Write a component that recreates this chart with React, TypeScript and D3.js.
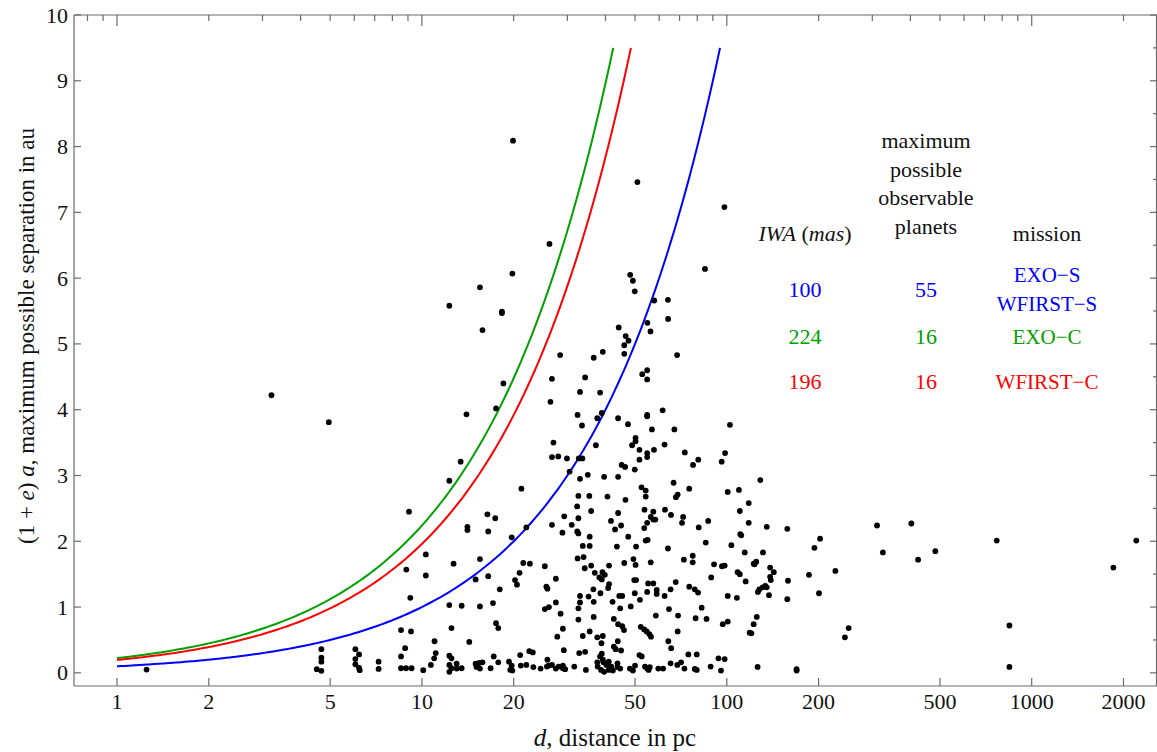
import React from "react";
import * as d3 from "d3";

// ---------- data ----------
// Planets: [distance d in pc, (1+e)a maximum possible separation in au]
const planetsNear: [number, number][] = [
  [1.25, 0.05], [3.21, 4.22], [4.95, 3.81], [14.0, 3.93], [17.5, 4.02], [13.4, 3.21], [12.3, 2.92],
  [9.07, 2.45], [16.4, 2.41], [17.4, 2.35], [14.1, 2.22], [14.1, 2.17], [16.5, 2.15], [10.3, 1.8],
  [8.89, 1.57], [10.3, 1.48], [12.7, 1.66], [15.5, 1.73], [15.0, 1.42], [16.5, 1.47], [18.0, 1.27],
  [9.16, 1.14], [12.3, 1.03], [13.5, 1.02], [15.5, 1.01], [17.1, 1.06], [17.5, 0.755], [17.8, 0.68],
  [8.54, 0.65], [9.21, 0.63], [12.5, 0.68], [14.3, 0.47], [11.0, 0.48], [11.1, 0.3], [10.97, 0.22],
  [10.7, 0.12], [10.1, 0.04], [8.81, 0.375], [8.54, 0.25], [8.54, 0.07], [8.87, 0.07], [9.25, 0.07],
  [7.21, 0.17], [7.21, 0.06], [6.05, 0.36], [6.22, 0.28], [6.05, 0.21], [6.05, 0.13], [6.22, 0.076],
  [6.25, 0.04], [4.68, 0.36], [4.68, 0.23], [4.68, 0.17], [4.52, 0.056], [4.68, 0.03], [12.3, 0.26],
  [12.5, 0.22], [12.3, 0.12], [13.0, 0.14], [12.5, 0.07], [13.0, 0.065], [13.5, 0.07], [12.3, 0.015],
  [15.0, 0.14], [15.4, 0.15], [15.1, 0.09], [15.5, 0.065], [15.8, 0.16], [16.8, 0.07], [17.2, 0.25],
  [17.8, 0.16], [15.5, 5.86], [12.3, 5.58], [18.3, 5.49], [18.3, 5.47], [15.8, 5.21], [18.5, 4.4],
  [19.3, 0.17],
];

const planetsMid: [number, number][] = [
  [26.4, 4.12], [33.0, 4.27], [32.4, 3.92], [33.5, 3.76], [27.0, 3.5], [26.7, 3.28], [28.0, 3.29],
  [29.9, 3.26], [32.7, 3.26], [33.6, 3.26], [30.5, 3.06], [33.0, 2.95], [35.0, 3.01], [21.2, 2.8],
  [32.6, 2.69], [35.4, 2.69], [32.3, 2.53], [35.9, 2.46], [29.3, 2.38], [26.7, 2.25], [28.9, 2.13],
  [31.0, 2.25], [32.6, 2.35], [32.3, 2.15], [32.6, 2.12], [22.0, 2.21], [19.7, 2.06], [35.5, 2.07],
  [33.7, 1.93], [35.5, 1.93], [32.4, 1.74], [33.9, 1.76], [35.9, 1.63], [34.2, 1.59], [21.5, 1.67],
  [22.6, 1.66], [25.3, 1.62], [20.9, 1.52], [20.2, 1.41], [20.5, 1.34], [27.5, 1.43], [25.6, 1.31],
  [25.8, 1.28], [25.3, 0.97], [26.1, 1.0], [27.5, 1.07], [28.5, 0.9], [33.0, 1.17], [35.2, 1.16],
  [33.0, 1.07], [32.6, 0.98], [32.6, 0.81], [29.0, 0.67], [27.8, 0.55], [35.5, 0.63], [33.7, 0.56],
  [29.2, 0.345], [32.8, 0.3], [34.3, 0.32], [22.5, 0.33], [23.1, 0.31], [21.0, 0.27], [19.7, 0.11],
  [19.5, 0.045], [19.8, 0.035], [21.1, 0.11], [22.0, 0.12], [23.2, 0.087], [24.5, 0.065], [25.8, 0.2],
  [26.0, 0.11], [26.7, 0.12], [25.7, 0.095], [27.5, 0.065], [28.1, 0.095], [29.0, 0.11], [29.5, 0.056],
  [29.0, 0.07], [31.6, 0.095], [34.5, 0.045], [19.9, 8.09], [26.2, 6.52], [19.8, 6.07], [28.4, 4.83],
  [36.6, 4.79], [26.7, 4.47], [34.3, 4.49],
];

const planetsFar: [number, number][] = [
  [38.4, 4.26], [38.9, 3.95], [37.6, 3.87], [37.2, 3.46], [44.0, 3.87], [47.4, 3.78], [54.8, 3.92],
  [54.8, 3.9], [61.6, 3.99], [56.8, 3.7], [67.3, 3.7], [50.2, 3.57], [50.2, 3.52], [48.9, 3.46],
  [51.7, 3.39], [54.8, 3.34], [54.8, 3.28], [57.7, 3.39], [62.5, 3.47], [51.7, 3.24], [45.2, 3.16],
  [46.4, 3.13], [49.9, 3.09], [72.8, 3.35], [77.5, 3.16], [80.6, 3.24], [39.6, 2.98], [44.0, 2.98],
  [52.5, 2.82], [54.2, 2.77], [54.2, 2.68], [40.6, 2.68], [46.5, 2.63], [66.9, 2.89], [69.0, 2.71],
  [68.1, 2.67], [75.3, 2.8], [44.0, 2.43], [41.7, 2.31], [43.0, 2.18], [45.0, 2.24], [53.7, 2.48],
  [57.4, 2.45], [56.3, 2.37], [57.4, 2.33], [58.3, 2.33], [54.8, 2.28], [53.6, 2.2], [62.7, 2.48],
  [65.6, 2.4], [71.9, 2.37], [71.3, 2.28], [80.9, 2.21], [47.5, 2.07], [54.2, 2.01], [55.0, 2.02],
  [43.6, 1.92], [50.4, 1.92], [64.1, 1.89], [77.3, 1.78], [77.3, 1.68], [72.3, 1.72], [46.1, 1.67],
  [49.4, 1.73], [50.2, 1.64], [56.3, 1.68], [41.1, 1.63], [36.9, 1.52], [39.1, 1.53], [39.8, 1.49],
  [38.2, 1.45], [38.9, 1.42], [41.1, 1.35], [40.8, 1.29], [49.7, 1.41], [50.4, 1.41], [55.2, 1.36],
  [57.4, 1.36], [54.8, 1.23], [58.9, 1.26], [58.9, 1.2], [49.9, 1.21], [44.4, 1.17], [45.4, 1.17],
  [38.5, 1.21], [51.9, 1.11], [62.5, 1.17], [65.4, 1.27], [68.0, 1.38], [75.3, 1.31], [78.5, 1.27],
  [80.5, 1.22], [36.5, 1.27], [36.6, 1.08], [42.2, 1.08], [44.7, 0.98], [48.4, 1.01], [64.6, 0.97],
  [58.5, 0.87], [69.2, 0.87], [79.0, 0.83], [36.6, 0.85], [42.6, 0.82], [44.0, 0.74], [45.4, 0.71],
  [46.0, 0.65], [52.2, 0.7], [53.6, 0.66], [54.6, 0.63], [55.7, 0.59], [56.4, 0.55], [37.6, 0.54],
  [38.8, 0.45], [39.2, 0.56], [43.9, 0.48], [42.6, 0.4], [43.2, 0.36], [45.0, 0.34], [64.3, 0.48],
  [65.7, 0.375], [69.0, 0.63], [38.9, 0.29], [38.4, 0.25], [39.2, 0.2], [37.6, 0.16], [39.4, 0.16],
  [37.7, 0.095], [40.3, 0.12], [41.0, 0.17], [41.8, 0.095], [38.7, 0.045], [39.6, 0.015], [41.0, 0.045],
  [42.3, 0.035], [43.8, 0.145], [43.8, 0.087], [44.7, 0.065], [51.7, 0.27], [52.6, 0.25], [48.1, 0.065],
  [50.0, 0.11], [49.2, 0.035], [53.9, 0.095], [54.8, 0.065], [55.9, 0.087], [55.4, 0.045], [59.6, 0.065],
  [61.8, 0.065], [65.4, 0.145], [68.8, 0.12], [70.8, 0.16], [72.6, 0.065], [74.8, 0.28], [79.7, 0.28],
  [79.7, 0.045], [78.5, 0.06], [50.9, 7.46], [48.2, 6.05], [49.2, 5.96], [49.9, 5.8], [57.8, 5.66],
  [64.1, 5.67], [64.2, 5.38], [54.9, 5.32], [56.2, 5.19], [44.2, 5.25], [46.6, 5.12], [47.6, 5.05],
  [46.1, 4.98], [46.1, 4.85], [68.7, 4.83], [39.2, 4.88], [52.8, 4.54], [54.8, 4.6], [54.8, 4.46],
];

const planetsDistant: [number, number][] = [
  [102.4, 3.77], [98.7, 3.34], [96.2, 3.21], [128.8, 2.93], [100.7, 2.75], [109.6, 2.78], [118, 2.58],
  [110.3, 2.46], [86.9, 2.31], [118, 2.28], [135.2, 2.22], [157.9, 2.19], [110.7, 2.11], [111.5, 2.09],
  [85.3, 1.98], [103.5, 1.94], [114.5, 1.83], [131.4, 1.83], [90.8, 1.65], [96.4, 1.62], [98.4, 1.63],
  [122.5, 1.66], [124.9, 1.69], [123.3, 1.65], [138.7, 1.6], [142.6, 1.53], [138.7, 1.46], [139.4, 1.41],
  [108.5, 1.53], [110.3, 1.5], [88.9, 1.45], [115.3, 1.39], [158.7, 1.4], [126.5, 1.23], [127.8, 1.27],
  [131.1, 1.3], [133.7, 1.32], [135.2, 1.3], [137.5, 1.18], [157.9, 1.12], [100.7, 1.17], [107.9, 1.14],
  [82.7, 0.99], [85.8, 0.82], [97, 0.74], [100.7, 0.78], [125.4, 0.85], [122.5, 0.74], [118.8, 0.61],
  [120.4, 0.6], [93.9, 0.22], [98.4, 0.21], [88.5, 0.096], [95.7, 0.035], [126.2, 0.09], [169.4, 0.056],
  [169.4, 0.035], [98.2, 7.08], [84.8, 6.14],
  [186, 1.49], [193.8, 1.9], [202.3, 2.04], [200.6, 1.21], [227, 1.55], [251, 0.68], [244, 0.54],
  [311, 2.24], [325, 1.83], [403, 2.27], [424, 1.72], [483, 1.85], [768, 2.01], [845, 0.72],
  [845, 0.09], [1853, 1.6], [2203, 2.01],
];

// Missions: inner working angle (mas), count of observable planets, names
const iwaMas = [100, 224, 196];
const observableCounts = [55, 16, 16];
const missionNames = [["EXO−S", "WFIRST−S"], ["EXO−C"], ["WFIRST−C"]];
const curveMaxSeparation = 9.5;

const xTickValues = [1, 2, 5, 10, 20, 50, 100, 200, 500, 1000, 2000];
const yTickValues = [0, 1, 2, 3, 4, 5, 6, 7, 8, 9, 10];

// ---------- styles ----------
const W = 1157;
const H = 752;
const left = 74;
const right = 1157;
const top = 15;
const bottom = 686;
const missionColors = ["#0000ff", "#00a000", "#ff0000"];
const frameColor = "#6a6a6a";
const FONT = "'Liberation Serif', 'Times New Roman', serif";

export default function App() {
  const x = d3.scaleLog().domain([0.7226, 2576]).range([left, right]);
  const y = d3.scaleLinear().domain([-0.2, 10]).range([bottom, top]);

  const planets = [...planetsNear, ...planetsMid, ...planetsFar, ...planetsDistant];

  const line = d3
    .line<[number, number]>()
    .x((p) => x(p[0]))
    .y((p) => y(p[1]))
    .curve(d3.curveMonotoneX);

  const curves = iwaMas.map((iwa) => {
    const k = iwa / 1000; // arcsec -> au per pc
    const dMax = curveMaxSeparation / k;
    const n = 160;
    const pts: [number, number][] = d3.range(n + 1).map((i) => {
      const d = Math.pow(10, (Math.log10(dMax) * i) / n);
      return [d, k * d];
    });
    return line(pts) || "";
  });

  const topTicks: { v: number; major: boolean }[] = [];
  [0.1, 1, 10, 100, 1000].forEach((p) => {
    for (let m = 1; m <= 9; m++) {
      const v = p * m;
      if (v >= 0.7226 && v <= 2576) topTicks.push({ v, major: m === 1 });
    }
  });
  const rightTicks = d3.range(0, 10.01, 0.5);

  const legendRows = [297.3, 344, 389.3];

  return (
    <svg
      width={W}
      height={H}
      style={{ position: "absolute", left: 0, top: 0, background: "#fff" }}
      fontFamily={FONT}
    >
      <rect x={0} y={0} width={W} height={H} fill="#fff" />

      {curves.map((p, i) => (
        <path key={i} d={p} fill="none" stroke={missionColors[i]} strokeWidth={2} />
      ))}

      {planets.map((p, i) => (
        <circle key={i} cx={x(p[0])} cy={y(p[1])} r={2.9} fill="#000" />
      ))}

      <g stroke={frameColor} strokeWidth={1.2} fill="none">
        <line x1={left} x2={right} y1={bottom} y2={bottom} />
        <line x1={left} x2={right} y1={top} y2={top} />
        <line x1={left} x2={left} y1={top} y2={bottom} />
        <line x1={right - 0.5} x2={right - 0.5} y1={top} y2={bottom} />
        {xTickValues.map((v) => (
          <line key={"bx" + v} x1={x(v)} x2={x(v)} y1={bottom} y2={bottom - 8} />
        ))}
        {topTicks.map((t, i) => (
          <line key={"tx" + i} x1={x(t.v)} x2={x(t.v)} y1={top} y2={top + (t.major ? 11 : 6)} />
        ))}
        {yTickValues.map((v) => (
          <line key={"ly" + v} x1={left} x2={left + 7} y1={y(v)} y2={y(v)} />
        ))}
        {rightTicks.map((v, i) => (
          <line
            key={"ry" + i}
            x1={right}
            x2={right - (Number.isInteger(v) ? 7 : 4)}
            y1={y(v)}
            y2={y(v)}
          />
        ))}
      </g>

      <g fontSize={22} fill="#111">
        {xTickValues.map((v) => (
          <text key={"xl" + v} x={x(v)} y={709} textAnchor="middle">
            {v}
          </text>
        ))}
        {yTickValues.map((v) => (
          <text key={"yl" + v} x={68} y={y(v)} textAnchor="end" dominantBaseline="central">
            {v}
          </text>
        ))}
      </g>

      <text x={615} y={746} fontSize={25} textAnchor="middle" fill="#111">
        <tspan fontStyle="italic">d</tspan>, distance in pc
      </text>
      <text
        transform="translate(34,336) rotate(-90)"
        fontSize={23}
        textAnchor="middle"
        fill="#111"
      >
        (1 + <tspan fontStyle="italic">e</tspan>) <tspan fontStyle="italic">a</tspan>, maximum possible separation in au
      </text>

      <g fontSize={22} textAnchor="middle" fill="#111">
        <text x={926} y={148.3}>maximum</text>
        <text x={926} y={176.7}>possible</text>
        <text x={926} y={205}>observable</text>
        <text x={926} y={234.3}>planets</text>
        <text x={805} y={240.7}>
          <tspan fontStyle="italic">IWA</tspan> (<tspan fontStyle="italic">mas</tspan>)
        </text>
        <text x={1047} y={240.7}>mission</text>
      </g>
      <g fontSize={22} textAnchor="middle">
        {iwaMas.map((iwa, i) => (
          <g key={"lg" + i} fill={missionColors[i]}>
            <text x={805} y={legendRows[i]}>{iwa}</text>
            <text x={926} y={legendRows[i]}>{observableCounts[i]}</text>
            {missionNames[i].length === 1 ? (
              <text x={1047} y={legendRows[i]} fontSize={21}>{missionNames[i][0]}</text>
            ) : (
              missionNames[i].map((nm, j) => (
                <text key={j} x={1047} y={legendRows[i] - 15 + j * 28.5} fontSize={21}>
                  {nm}
                </text>
              ))
            )}
          </g>
        ))}
      </g>
    </svg>
  );
}
